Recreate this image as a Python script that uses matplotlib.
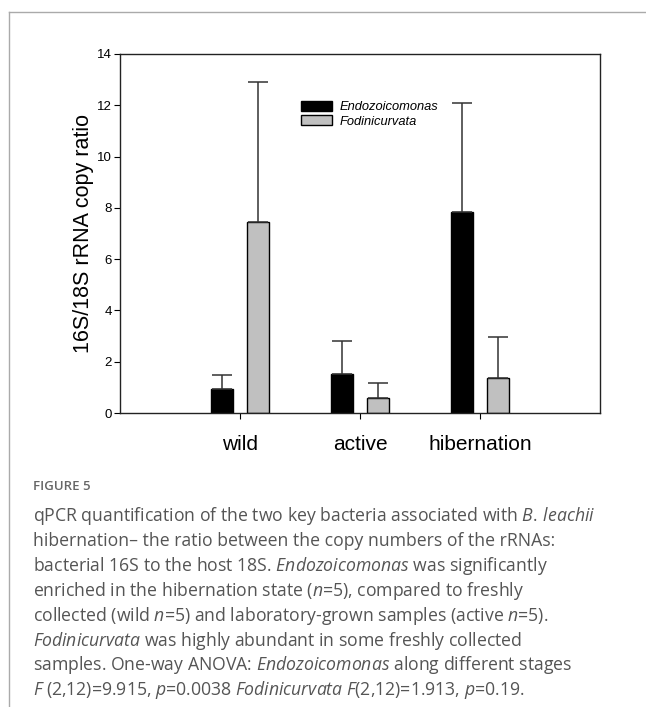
import matplotlib
matplotlib.use('Agg')
import matplotlib.pyplot as plt
from matplotlib.lines import Line2D
import numpy as np

# values
stages = ['wild', 'active', 'hibernation']
endo_mean = [0.95, 1.53, 7.85]
endo_err = [0.52, 1.27, 4.25]
fodi_mean = [7.43, 0.60, 1.35]
fodi_err = [5.47, 0.57, 1.62]
yticks = [0, 2, 4, 6, 8, 10, 12, 14]

caption = [
    r'qPCR quantification of the two key bacteria associated with $\mathit{B.\,leachii}$',
    'hibernation\u2013 the ratio between the copy numbers of the rRNAs:',
    r'bacterial 16S to the host 18S. $\mathit{Endozoicomonas}$ was significantly',
    r'enriched in the hibernation state ($\mathit{n}$=5), compared to freshly',
    r'collected (wild $\mathit{n}$=5) and laboratory-grown samples (active $\mathit{n}$=5).',
    r'$\mathit{Fodinicurvata}$ was highly abundant in some freshly collected',
    r'samples. One-way ANOVA: $\mathit{Endozoicomonas}$ along different stages',
    r'$\mathit{F}$ (2,12)=9.915, $\mathit{p}$=0.0038 $\mathit{Fodinicurvata}$ $\mathit{F}$(2,12)=1.913, $\mathit{p}$=0.19.',
]

plt.rcParams['mathtext.fontset'] = 'custom'
plt.rcParams['mathtext.it'] = 'Open Sans:italic'
plt.rcParams['mathtext.rm'] = 'Open Sans'
plt.rcParams['font.family'] = 'Liberation Sans'

W, H = 646, 707
fig = plt.figure(figsize=(W / 100, H / 100), dpi=100)
ax = fig.add_axes([120 / W, 1 - 413 / H, 480 / W, 359 / H])

x = np.arange(1, len(stages) + 1)
off, bw = 0.15, 0.19
ekw = dict(ecolor='#333333', elinewidth=1.1, capthick=1.1)
ax.bar(x - off, endo_mean, bw, color='black', edgecolor='black', linewidth=1,
       yerr=[np.zeros(3), endo_err], capsize=7, error_kw=ekw, label='Endozoicomonas')
ax.bar(x + off, fodi_mean, bw, color='#c0c0c0', edgecolor='black', linewidth=1,
       yerr=[np.zeros(3), fodi_err], capsize=7, error_kw=ekw, label='Fodinicurvata')

ax.set_xlim(0, 4)
ax.set_ylim(0, 14)
ax.set_yticks(yticks)
ax.set_xticks(x)
ax.set_xticklabels(stages, fontsize=15)
ax.tick_params(axis='y', labelsize=9.5, length=4, width=0.8, pad=2)
ax.tick_params(axis='x', length=4, width=0.8, pad=12)
for s in ax.spines.values():
    s.set_linewidth(1)
    s.set_color('#222222')

ax.set_ylabel('16S/18S rRNA copy ratio', fontsize=15.5)
ax.yaxis.set_label_coords(-0.055, 0.5)

ax.legend(loc='upper left', bbox_to_anchor=(0.377, 0.869), frameon=False,
          borderpad=0, borderaxespad=0, handlelength=2.4, handleheight=0.8,
          handletextpad=0.6, labelspacing=0.15,
          prop={'family': 'Liberation Sans', 'style': 'italic', 'size': 9.3})

# frame around the figure panel (top and left only)
fig.add_artist(Line2D([9 / W, 1], [1 - 12 / H, 1 - 12 / H], color='#aaaaaa', lw=1))
fig.add_artist(Line2D([9 / W, 9 / W], [0, 1 - 12 / H], color='#aaaaaa', lw=1))

fig.text(33 / W, 1 - 487 / H, 'FIGURE 5', fontsize=9.5, color='#666666',
         family='Open Sans', weight='semibold', va='center')
for i, line in enumerate(caption):
    fig.text(33 / W, 1 - (516 + 24.9 * i) / H, line, fontsize=12.7, color='#555555',
             family='Open Sans', va='center')

fig.savefig('out.png', dpi=100)
